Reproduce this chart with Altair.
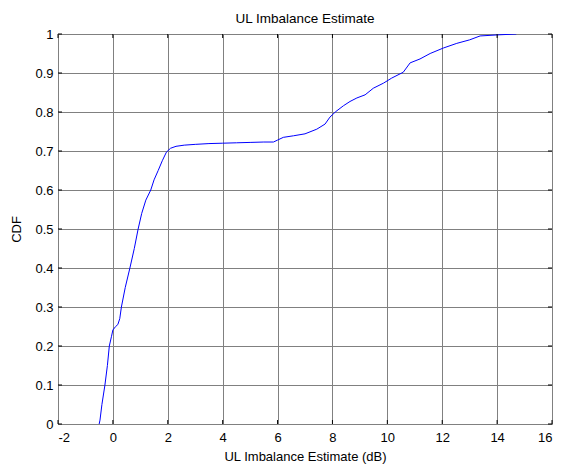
import altair as alt
import pandas as pd

# CDF curve
x_vals = [-0.50, -0.47, -0.40, -0.29, -0.20, -0.13, -0.05, 0.00, 0.10, 0.18, 0.25, 0.31, 0.45, 0.62,
          0.78, 0.92, 1.05, 1.20, 1.38, 1.50, 1.65, 1.80, 1.95, 2.10, 2.30, 2.60, 3.00, 3.50, 4.00,
          4.50, 5.00, 5.50, 5.85, 6.00, 6.21, 6.58, 7.00, 7.43, 7.73, 7.91, 8.12, 8.40, 8.64, 8.89,
          9.19, 9.49, 9.86, 10.16, 10.58, 10.83, 11.19, 11.56, 12.04, 12.53, 13.00, 13.38, 14.10, 14.70]
cdf_vals = [0.000, 0.010, 0.050, 0.100, 0.150, 0.200, 0.225, 0.241, 0.250, 0.255, 0.270, 0.300, 0.350, 0.400,
            0.450, 0.500, 0.540, 0.574, 0.600, 0.626, 0.650, 0.675, 0.697, 0.707, 0.712, 0.715, 0.717, 0.719, 0.720,
            0.721, 0.722, 0.723, 0.723, 0.728, 0.735, 0.739, 0.744, 0.756, 0.769, 0.787, 0.801, 0.816, 0.827, 0.836,
            0.844, 0.861, 0.874, 0.887, 0.902, 0.926, 0.936, 0.950, 0.964, 0.976, 0.985, 0.995, 0.998, 1.000]

x_ticks = [-2, 0, 2, 4, 6, 8, 10, 12, 14, 16]
y_ticks = [0, 0.1, 0.2, 0.3, 0.4, 0.5, 0.6, 0.7, 0.8, 0.9, 1]

df = pd.DataFrame({"x": x_vals, "cdf": cdf_vals})
xt = pd.DataFrame({"x": x_ticks})
yt = pd.DataFrame({"cdf": y_ticks})

FONT = "Liberation Sans"
xscale = alt.Scale(domain=[-2, 16], nice=False, zero=False)
yscale = alt.Scale(domain=[0, 1], nice=False)

xaxis = alt.Axis(values=x_ticks, title="UL Imbalance Estimate (dB)",
                 labelExpr="'' + datum.value", labelOverlap=False,
                 grid=True, gridColor="#808080", gridWidth=1, gridOpacity=1,
                 ticks=False, domain=False, labelPadding=7, titlePadding=6,
                 labelFont=FONT, labelFontSize=13, labelColor="#000",
                 titleFont=FONT, titleFontSize=13, titleFontWeight="normal", titleColor="#000")
yaxis = alt.Axis(values=y_ticks, title="CDF", format="~g", labelOverlap=False,
                 grid=True, gridColor="#808080", gridWidth=1, gridOpacity=1,
                 ticks=False, domain=False, labelPadding=5, titlePadding=11,
                 labelFont=FONT, labelFontSize=13, labelColor="#000",
                 titleFont=FONT, titleFontSize=13, titleFontWeight="normal", titleColor="#000")

line = alt.Chart(df).mark_line(color="#0000ff", strokeWidth=1, clip=True).encode(
    x=alt.X("x:Q", scale=xscale, axis=xaxis),
    y=alt.Y("cdf:Q", scale=yscale, axis=yaxis),
)

tick_style = dict(color="#000", strokeWidth=1)
top_ticks = alt.Chart(xt).mark_rule(**tick_style).encode(
    x=alt.X("x:Q", scale=xscale, axis=xaxis), y=alt.value(0), y2=alt.value(4))
bot_ticks = alt.Chart(xt).mark_rule(**tick_style).encode(
    x=alt.X("x:Q", scale=xscale, axis=xaxis), y=alt.value(390), y2=alt.value(386))
left_ticks = alt.Chart(yt).mark_rule(**tick_style).encode(
    y=alt.Y("cdf:Q", scale=yscale, axis=yaxis), x=alt.value(0), x2=alt.value(4))
right_ticks = alt.Chart(yt).mark_rule(**tick_style).encode(
    y=alt.Y("cdf:Q", scale=yscale, axis=yaxis), x=alt.value(494), x2=alt.value(490))

chart = alt.layer(line, top_ticks, bot_ticks, left_ticks, right_ticks).properties(
    width=494, height=390,
    title=alt.TitleParams("UL Imbalance Estimate", font=FONT, fontSize=13.5, fontWeight="normal",
                          color="#000", offset=3),
    autosize=alt.AutoSizeParams(type="none"),
    padding={"left": 58, "top": 34, "right": 14, "bottom": 41},
).configure_view(stroke="#000", strokeWidth=1.2).configure(background="white")

chart.save("out.html", embed_options={"renderer": "svg", "actions": False})
